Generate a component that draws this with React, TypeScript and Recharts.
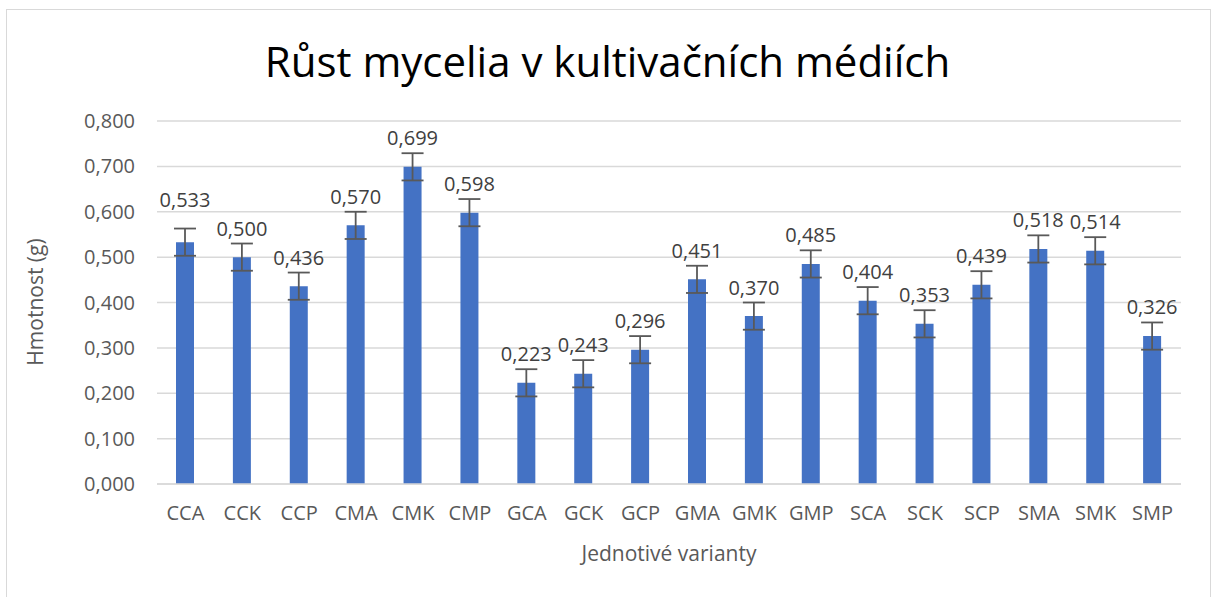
import { Bar, BarChart, CartesianGrid, ErrorBar, LabelList, XAxis, YAxis } from "recharts";

const variants = [
  "CCA", "CCK", "CCP", "CMA", "CMK", "CMP",
  "GCA", "GCK", "GCP", "GMA", "GMK", "GMP",
  "SCA", "SCK", "SCP", "SMA", "SMK", "SMP",
];

const weights = [
  0.533, 0.5, 0.436, 0.57, 0.699, 0.598,
  0.223, 0.243, 0.296, 0.451, 0.37, 0.485,
  0.404, 0.353, 0.439, 0.518, 0.514, 0.326,
];

const errors = [
  0.03, 0.03, 0.03, 0.03, 0.03, 0.03,
  0.03, 0.03, 0.03, 0.03, 0.03, 0.03,
  0.03, 0.03, 0.03, 0.03, 0.03, 0.03,
];

const yTicks = [0, 0.1, 0.2, 0.3, 0.4, 0.5, 0.6, 0.7, 0.8];

const data = variants.map((name, i) => ({ name, value: weights[i], err: errors[i] }));

const fmt = (v: number) => v.toFixed(3).replace(".", ",");

const FONT = "'Open Sans', sans-serif";
const GREY = "#595959";

// the CCA label was dragged up a bit in the original
const extraLift: Record<string, number> = { CCA: 14 };

const renderValueLabel = (props: any) => {
  const { x, y, width, height, value, index } = props;
  const errPx = value ? (height / value) * errors[index] : 0;
  const lift = extraLift[variants[index]] || 0;
  return (
    <text
      x={x + width / 2}
      y={y - errPx - 8 - lift}
      textAnchor="middle"
      fill="#404040"
      fontSize={20}
      fontFamily={FONT}
    >
      {fmt(value)}
    </text>
  );
};

export default function App() {
  return (
    <div style={{ position: "absolute", left: 0, top: 0, width: 1215, height: 597, overflow: "hidden", background: "#fff", fontFamily: FONT }}>
      <div style={{ position: "absolute", left: 6, top: 9, width: 1203, height: 600, border: "1px solid #D9D9D9" }} />
      <div style={{ position: "absolute", left: 0, top: 32, width: 1215, textAlign: "center", fontSize: 42, color: "#000" }}>
        Růst mycelia v kultivačních médiích
      </div>
      <div
        style={{
          position: "absolute",
          left: 35,
          top: 302,
          transform: "translate(-50%, -50%) rotate(-90deg)",
          whiteSpace: "nowrap",
          fontSize: 21,
          color: GREY,
        }}
      >
        Hmotnost (g)
      </div>
      <div style={{ position: "absolute", left: 669, top: 553, transform: "translate(-50%, -50%)", whiteSpace: "nowrap", fontSize: 21, color: GREY }}>
        Jednotivé varianty
      </div>
      <div style={{ position: "absolute", left: 0, top: 0 }}>
        <BarChart width={1215} height={597} data={data} margin={{ top: 121, right: 34, bottom: 83, left: 0 }} barSize={18}>
          <CartesianGrid vertical={false} stroke="#D9D9D9" strokeWidth={1.5} />
          <XAxis
            dataKey="name"
            tickLine={false}
            axisLine={{ stroke: "#D9D9D9", strokeWidth: 1.5 }}
            tickSize={0}
            tickMargin={22}
            interval={0}
            tick={{ fill: GREY, fontSize: 20, fontFamily: FONT }}
          />
          <YAxis
            width={157}
            domain={[0, 0.8]}
            ticks={yTicks}
            tickFormatter={fmt}
            axisLine={false}
            tickLine={false}
            tickSize={0}
            tickMargin={22}
            tick={{ fill: GREY, fontSize: 20, fontFamily: FONT }}
          />
          <Bar dataKey="value" fill="#4472C4" isAnimationActive={false}>
            <ErrorBar dataKey="err" width={11} stroke="#595959" strokeWidth={1.8} />
            <LabelList dataKey="value" content={renderValueLabel} />
          </Bar>
        </BarChart>
      </div>
    </div>
  );
}
